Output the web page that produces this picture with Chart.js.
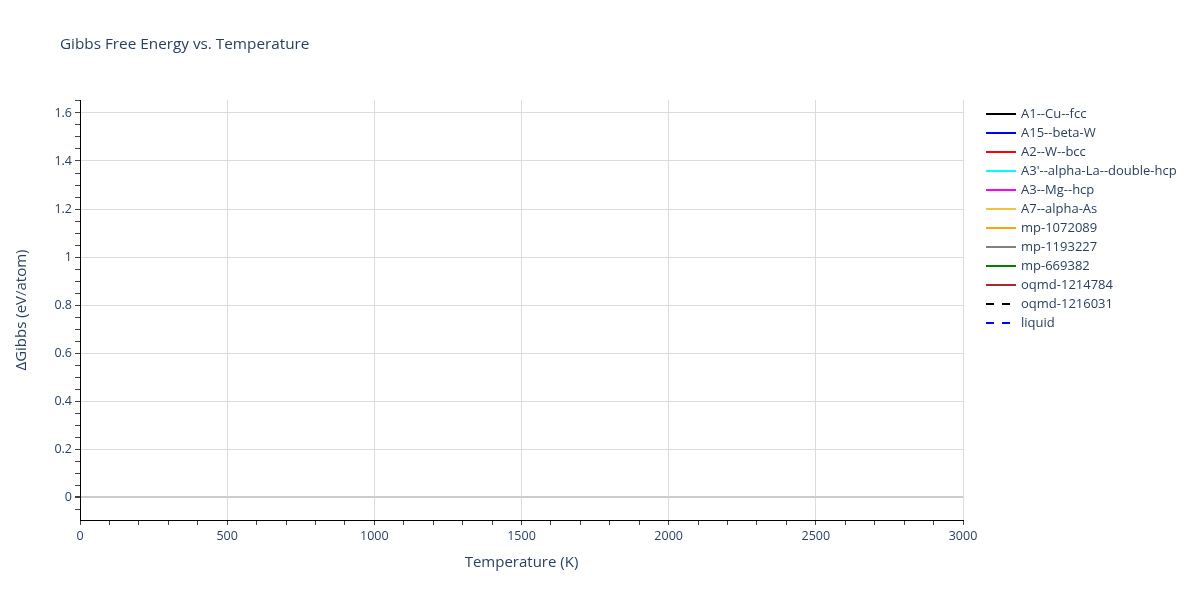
<!DOCTYPE html>
<html lang="en">
<head>
    <meta charset="UTF-8">
    <title>Gibbs Free Energy vs. Temperature</title>
    <script src="https://cdn.jsdelivr.net/npm/chart.js"></script>
    <style>
        html, body { margin: 0; padding: 0; background: #fff; }
        #wrap { width: 1200px; height: 600px; position: relative; }
    </style>
</head>
<body>
    <div id="wrap"><canvas id="gibbsChart" width="1200" height="600"></canvas></div>
    <script>
        // Series shown in the legend (no points are visible in the plot range)
        const seriesNames = ['A1--Cu--fcc', 'A15--beta-W', 'A2--W--bcc', "A3'--alpha-La--double-hcp",
            'A3--Mg--hcp', 'A7--alpha-As', 'mp-1072089', 'mp-1193227', 'mp-669382',
            'oqmd-1214784', 'oqmd-1216031', 'liquid'];
        const seriesColors = ['#000000', '#0000ff', '#ff0000', '#00ffff', '#ff00ff', '#f0c43c',
            '#ffa500', '#808080', '#008000', '#a52a2a', '#000000', '#0000ff'];
        const seriesDashed = [false, false, false, false, false, false, false, false, false, false, true, true];
        const seriesTemps = [[], [], [], [], [], [], [], [], [], [], [], []];
        const seriesGibbs = [[], [], [], [], [], [], [], [], [], [], [], []];

        // Axis ranges and labelled ticks
        const xRange = [0, 3000];
        const yRange = [-0.095, 1.654];
        const xLabels = [0, 500, 1000, 1500, 2000, 2500, 3000];
        const yLabels = [0, 0.2, 0.4, 0.6, 0.8, 1, 1.2, 1.4, 1.6];

        const textColor = '#2a3f5f';
        const fontFamily = '"Open Sans", verdana, arial, sans-serif';

        const datasets = seriesNames.map((name, i) => ({
            label: name,
            data: seriesTemps[i].map((t, j) => ({ x: t, y: seriesGibbs[i][j] })),
            borderColor: seriesColors[i],
            borderWidth: 2,
            borderDash: seriesDashed[i] ? [8, 8] : [],
            pointRadius: 0,
            fill: false
        }));

        const isLabel = (list, v) => list.some(l => Math.abs(l - v) < 1e-6);

        // Title, axis titles and legend drawn like the original figure
        const decorations = {
            id: 'decorations',
            afterDraw(chart) {
                const ctx = chart.ctx;
                const area = chart.chartArea;
                ctx.save();
                ctx.fillStyle = textColor;
                ctx.textBaseline = 'middle';

                ctx.font = '15.3px ' + fontFamily;
                ctx.textAlign = 'left';
                ctx.fillText('Gibbs Free Energy vs. Temperature', 60, 45);

                ctx.font = '15px ' + fontFamily;
                ctx.textAlign = 'center';
                ctx.fillText('Temperature (K)', (area.left + area.right) / 2, 563);

                ctx.translate(22, (area.top + area.bottom) / 2);
                ctx.rotate(-Math.PI / 2);
                ctx.fillText('ΔGibbs (eV/atom)', 0, 0);
                ctx.restore();

                ctx.save();
                ctx.font = '13px ' + fontFamily;
                ctx.textAlign = 'left';
                ctx.textBaseline = 'middle';
                seriesNames.forEach((name, i) => {
                    const y = 114 + i * 19;
                    ctx.strokeStyle = seriesColors[i];
                    ctx.lineWidth = 2;
                    ctx.setLineDash(seriesDashed[i] ? [8, 8] : []);
                    ctx.beginPath();
                    ctx.moveTo(986, y);
                    ctx.lineTo(1016, y);
                    ctx.stroke();
                    ctx.fillStyle = textColor;
                    ctx.fillText(name, 1021, y);
                });
                ctx.restore();
            }
        };

        new Chart(document.getElementById('gibbsChart').getContext('2d'), {
            type: 'line',
            data: { datasets: datasets },
            options: {
                responsive: false,
                animation: false,
                layout: { padding: { top: 100, right: 237, bottom: 0, left: 0 } },
                plugins: {
                    legend: { display: false },
                    tooltip: { enabled: false }
                },
                scales: {
                    x: {
                        type: 'linear',
                        min: xRange[0],
                        max: xRange[1],
                        afterFit: scale => { scale.height = 80; },
                        border: { color: '#000', width: 1 },
                        grid: {
                            color: c => (c.tick && isLabel(xLabels, c.tick.value)) ? '#dcdcdc' : 'rgba(0,0,0,0)',
                            tickColor: '#444',
                            tickLength: 5,
                            lineWidth: 1
                        },
                        ticks: {
                            stepSize: 100,
                            includeBounds: false,
                            autoSkip: false,
                            maxRotation: 0,
                            padding: 4,
                            color: textColor,
                            font: { family: fontFamily, size: 12.5 },
                            callback: v => isLabel(xLabels, v) ? String(v) : ''
                        }
                    },
                    y: {
                        type: 'linear',
                        min: yRange[0],
                        max: yRange[1],
                        afterFit: scale => { scale.width = 80; },
                        border: { color: '#000', width: 1 },
                        grid: {
                            color: c => {
                                if (!c.tick) return 'rgba(0,0,0,0)';
                                if (Math.abs(c.tick.value) < 1e-6) return '#cccccc';
                                return isLabel(yLabels, c.tick.value) ? '#dcdcdc' : 'rgba(0,0,0,0)';
                            },
                            lineWidth: c => (c.tick && Math.abs(c.tick.value) < 1e-6) ? 2 : 1,
                            tickColor: '#444',
                            tickLength: 5
                        },
                        ticks: {
                            stepSize: 0.05,
                            includeBounds: false,
                            autoSkip: false,
                            padding: 3,
                            color: textColor,
                            font: { family: fontFamily, size: 12.5 },
                            callback: v => {
                                const r = Math.round(v * 100) / 100;
                                return isLabel(yLabels, r) ? String(r) : '';
                            }
                        }
                    }
                }
            },
            plugins: [decorations]
        });
    </script>
</body>
</html>
